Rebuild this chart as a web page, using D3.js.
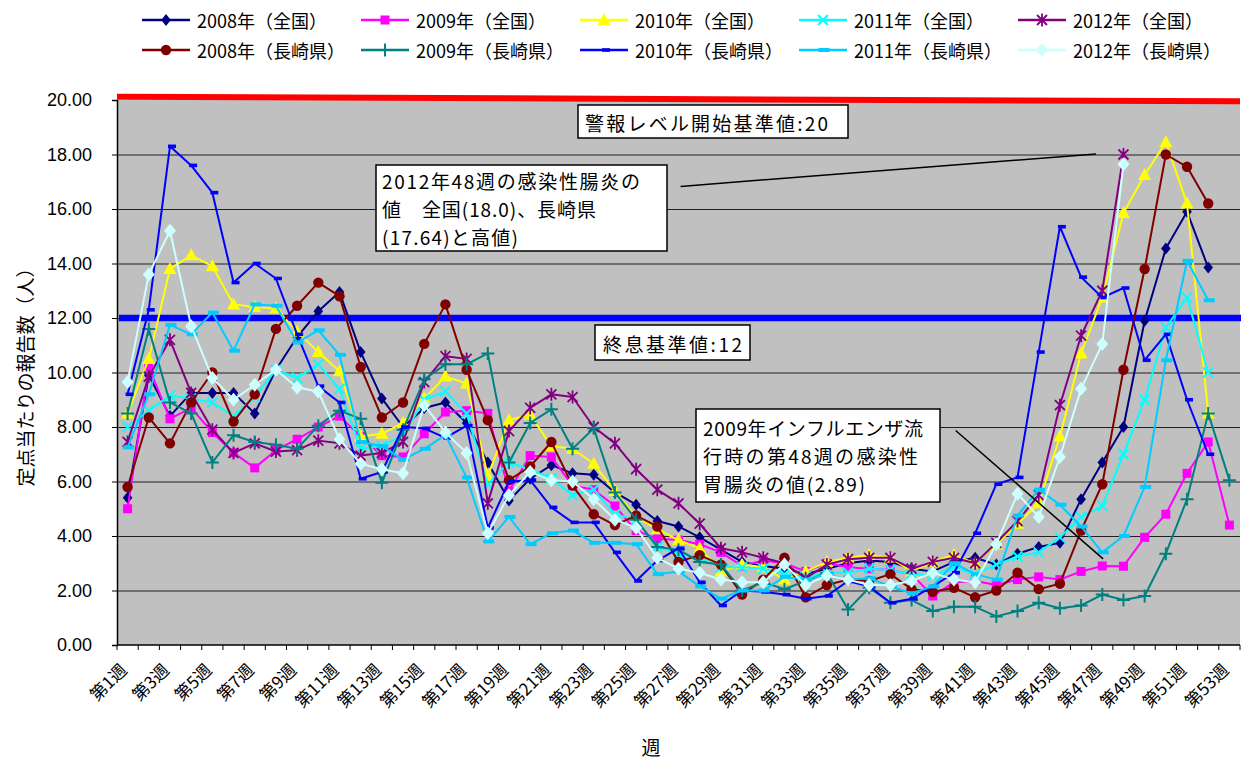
<!DOCTYPE html>
<html><head><meta charset="utf-8">
<script src="https://cdn.jsdelivr.net/npm/d3@7"></script>
<style>body{margin:0;background:#fff}</style>
</head><body>
<svg id="c" width="1241" height="758"></svg>
<script>
const weeks=["第1週","第2週","第3週","第4週","第5週","第6週","第7週","第8週","第9週","第10週","第11週","第12週","第13週","第14週","第15週","第16週","第17週","第18週","第19週","第20週","第21週","第22週","第23週","第24週","第25週","第26週","第27週","第28週","第29週","第30週","第31週","第32週","第33週","第34週","第35週","第36週","第37週","第38週","第39週","第40週","第41週","第42週","第43週","第44週","第45週","第46週","第47週","第48週","第49週","第50週","第51週","第52週","第53週"];
const yTicks=[0,2,4,6,8,10,12,14,16,18,20];

const zenkoku2008=[5.4,9.9,8.4,9.25,9.25,9.25,8.5,10.1,11.3,12.25,12.95,10.75,9.05,8.0,8.7,8.9,8.15,6.7,5.3,6.1,6.6,6.3,6.25,5.6,5.15,4.55,4.35,3.95,3.5,3.05,2.9,2.8,2.6,2.8,3.0,3.1,3.05,2.8,2.7,3.05,3.2,2.95,3.35,3.6,3.75,5.35,6.7,8.0,11.9,14.55,15.9,13.85,null];
const zenkoku2009=[5.0,10.2,8.3,8.7,7.8,7.05,6.5,7.15,7.55,8.0,8.4,7.65,6.95,6.9,7.75,8.55,8.6,8.5,5.65,6.95,6.9,5.85,5.7,5.1,4.2,3.9,3.85,3.7,3.4,2.9,3.1,3.0,2.7,3.0,2.85,2.8,2.75,2.6,1.8,2.3,2.35,2.2,2.4,2.5,2.4,2.7,2.9,2.89,3.95,4.8,6.3,7.45,4.4];
const zenkoku2010=[8.5,10.5,13.8,14.3,13.9,12.5,12.4,12.35,11.5,10.75,10.05,7.65,7.75,8.15,9.05,9.85,9.6,6.2,8.25,8.45,7.3,7.2,6.65,5.65,4.7,4.25,3.85,3.55,2.7,2.95,2.85,2.4,2.7,3.05,3.2,3.3,3.2,2.7,3.05,3.3,3.0,3.7,4.45,5.2,7.65,10.7,12.75,15.85,17.25,18.45,16.2,8.5,null];
const zenkoku2011=[8.0,8.6,9.15,9.05,8.9,8.4,9.1,10.1,9.8,10.3,9.4,7.2,7.3,7.7,9.0,9.3,8.5,5.9,6.7,6.45,6.1,5.5,5.7,4.8,4.6,3.6,3.35,3.2,2.85,2.85,2.8,2.6,2.5,2.65,2.65,2.8,2.75,2.6,2.55,2.85,2.6,2.95,3.25,3.4,3.95,4.7,5.1,7.0,9.0,11.65,12.75,10.0,null];
const zenkoku2012=[7.45,9.85,11.2,9.25,7.9,7.05,7.4,7.1,7.15,7.5,7.4,6.95,7.05,7.45,9.65,10.6,10.5,5.2,7.85,8.7,9.2,9.1,8.0,7.4,6.45,5.7,5.2,4.45,3.55,3.4,3.2,3.0,2.45,2.95,3.15,3.2,3.2,2.8,3.05,3.2,3.0,3.75,4.55,5.5,8.8,11.35,13.0,18.0,null,null,null,null,null];
const nagasaki2008=[5.8,8.35,7.4,8.9,10.0,8.2,9.2,11.6,12.45,13.3,12.8,10.2,8.35,8.9,11.05,12.5,10.1,8.25,6.05,6.55,7.45,5.85,4.8,4.4,4.75,4.35,3.05,3.3,2.95,1.85,2.4,3.2,1.75,2.2,2.4,2.35,2.6,2.05,1.95,2.1,1.75,2.0,2.65,2.05,2.25,4.2,5.9,10.1,13.8,18.0,17.55,16.2,null];
const nagasaki2009=[8.5,11.6,8.9,8.5,6.7,7.7,7.45,7.35,7.2,8.05,8.6,8.3,5.95,7.9,9.75,10.3,10.3,10.7,6.7,8.15,8.65,7.2,7.95,5.6,4.6,3.6,3.5,3.05,2.95,2.0,2.3,2.05,2.35,2.65,1.3,2.1,1.55,1.65,1.25,1.4,1.4,1.05,1.25,1.55,1.35,1.45,1.85,1.65,1.8,3.35,5.35,8.5,6.05];
const nagasaki2010=[9.2,12.3,18.3,17.6,16.6,13.3,14.0,13.45,11.4,9.5,8.9,6.1,6.35,8.0,7.95,7.6,8.05,4.3,6.0,6.05,5.05,4.5,4.5,3.4,2.35,3.1,3.55,2.3,1.45,2.0,1.95,1.85,1.7,1.8,2.35,2.15,1.55,1.7,2.15,2.65,4.1,5.9,6.15,10.75,15.35,13.5,12.75,13.1,10.45,11.4,9.0,7.0,null];
const nagasaki2011=[7.25,9.2,11.75,11.4,12.2,10.8,12.5,12.45,11.1,11.55,10.65,7.45,7.3,6.8,7.2,7.7,6.15,3.8,4.7,3.7,4.1,4.2,3.75,3.75,3.7,2.6,2.7,2.15,1.7,2.0,2.0,2.5,2.4,2.6,2.4,2.45,2.15,1.9,2.15,3.0,2.6,2.4,4.75,5.7,5.15,4.35,3.4,4.0,5.8,10.45,14.1,12.65,null];
const nagasaki2012=[9.65,13.6,15.2,11.7,9.8,9.0,9.55,10.1,9.45,9.3,7.55,6.65,6.45,6.3,8.8,7.8,7.05,4.1,5.5,6.35,6.05,6.0,5.35,4.6,4.3,3.2,2.8,2.65,2.4,2.3,2.3,2.95,2.2,2.55,2.4,2.2,2.2,2.35,2.65,2.4,2.3,3.7,5.55,4.7,6.9,9.4,11.05,17.64,null,null,null,null,null];

const seriesNames=["2008年（全国）","2009年（全国）","2010年（全国）","2011年（全国）","2012年（全国）","2008年（長崎県）","2009年（長崎県）","2010年（長崎県）","2011年（長崎県）","2012年（長崎県）"];
const seriesValues=[zenkoku2008,zenkoku2009,zenkoku2010,zenkoku2011,zenkoku2012,nagasaki2008,nagasaki2009,nagasaki2010,nagasaki2011,nagasaki2012];
const seriesColors=["#000080","#FF00FF","#FFFF00","#00FFFF","#800080","#800000","#008080","#0000FF","#00CCFF","#CCFFFF"];
const seriesMarkers=["diamond","square","triangle","x","star","circle","plus","dash","wdash","bigdiamond"];

const alarmLevel=20, endLevel=12;

const svg=d3.select("#c");
const L=117,R=1240,T=100,B=645;
const x=d3.scaleBand().domain(weeks).range([L,R]);
const bw=x.bandwidth();
const xc=d=>x(d)+bw/2;
const xw=w=>L+(w-0.5)*bw; // fractional week position for annotations
const y=d3.scaleLinear().domain([0,20]).range([B,T]);

// plot background
svg.append("rect").attr("x",L).attr("y",T).attr("width",R-L).attr("height",B-T).attr("fill","#c0c0c0");

// grid
const grid=svg.append("g").attr("transform",`translate(${L},0)`)
  .call(d3.axisLeft(y).tickValues(yTicks.filter(v=>v>0&&v<20)).tickSize(-(R-L)).tickFormat(""));
grid.select(".domain").remove();
grid.selectAll("line").attr("stroke","#202020").attr("stroke-width",1);

// y axis
const ya=svg.append("g").attr("transform",`translate(${L},0)`)
  .call(d3.axisLeft(y).tickValues(yTicks).tickSize(5).tickPadding(20).tickFormat(d3.format(".2f")));
ya.select(".domain").attr("stroke","#000").attr("stroke-width",1.5);
ya.selectAll("line").attr("stroke","#000");
ya.selectAll("text").attr("font-family","'Liberation Sans',Arial,sans-serif").attr("font-size",18).attr("fill","#000");

// x axis
svg.append("line").attr("x1",L).attr("x2",R).attr("y1",B).attr("y2",B).attr("stroke","#000").attr("stroke-width",1.5);
svg.append("g").selectAll("line").data(weeks.concat(["end"])).join("line")
  .attr("x1",d=>d==="end"?R:x(d)).attr("x2",d=>d==="end"?R:x(d))
  .attr("y1",B).attr("y2",B+5).attr("stroke","#000");
svg.append("g").selectAll("text").data(weeks.filter((d,i)=>i%2===0)).join("text")
  .attr("transform",d=>`translate(${xc(d)-5},${B+21}) rotate(-45)`)
  .attr("text-anchor","end").attr("dominant-baseline","central")
  .attr("font-family","'Noto Sans CJK JP',sans-serif").attr("font-size",17)
  .text(d=>d);

// axis titles
svg.append("text").attr("transform",`translate(24,${(T+B)/2}) rotate(-90)`).attr("text-anchor","middle")
  .attr("dominant-baseline","central").attr("font-family","'Noto Sans CJK JP',sans-serif").attr("font-size",19)
  .text("定点当たりの報告数（人）");
svg.append("text").attr("x",651).attr("y",746).attr("text-anchor","middle").attr("dominant-baseline","central")
  .attr("font-family","'Noto Sans CJK JP',sans-serif").attr("font-size",19).text("週");

// reference lines
svg.append("line").attr("x1",L).attr("x2",R).attr("y1",y(alarmLevel+0.12)).attr("y2",y(alarmLevel-0.05))
  .attr("stroke","#FF0000").attr("stroke-width",6);
svg.append("line").attr("x1",L+2).attr("x2",1241).attr("y1",y(endLevel)).attr("y2",y(endLevel))
  .attr("stroke","#0000FF").attr("stroke-width",6.5);

// markers
function drawMarker(g,type,color){
  switch(type){
    case "diamond": g.append("path").attr("d","M0,-6L4.8,0L0,6L-4.8,0Z").attr("fill",color); break;
    case "bigdiamond": g.append("path").attr("d","M0,-7L6,0L0,7L-6,0Z").attr("fill",color); break;
    case "square": g.append("rect").attr("x",-4.5).attr("y",-4.5).attr("width",9).attr("height",9).attr("fill",color); break;
    case "triangle": g.append("path").attr("d","M0,-7L6.5,5L-6.5,5Z").attr("fill",color); break;
    case "circle": g.append("circle").attr("r",5.2).attr("fill",color); break;
    case "x": g.append("path").attr("d","M-5,-5L5,5M-5,5L5,-5").attr("stroke",color).attr("stroke-width",2); break;
    case "star": g.append("path").attr("d","M-5,-5L5,5M-5,5L5,-5M0,-6.5L0,6.5").attr("stroke",color).attr("stroke-width",1.8); break;
    case "plus": g.append("path").attr("d","M-6.5,0L6.5,0M0,-6.5L0,6.5").attr("stroke",color).attr("stroke-width",2); break;
    case "dash": g.append("rect").attr("x",-2).attr("y",-1.8).attr("width",8).attr("height",3.6).attr("fill",color); break;
    case "wdash": g.append("rect").attr("x",-4.5).attr("y",-2).attr("width",11).attr("height",4).attr("fill",color); break;
  }
}

// series
const line=d3.line().defined(d=>d.v!=null).x(d=>xc(d.w)).y(d=>y(d.v));
seriesValues.forEach((vals,si)=>{
  const pts=vals.map((v,i)=>({w:weeks[i],v}));
  svg.append("path").datum(pts).attr("d",line).attr("fill","none")
    .attr("stroke",seriesColors[si]).attr("stroke-width",2).attr("stroke-linejoin","round");
  const mg=svg.append("g");
  pts.filter(p=>p.v!=null).forEach(p=>{
    const g=mg.append("g").attr("transform",`translate(${xc(p.w)},${y(p.v)})`);
    drawMarker(g,seriesMarkers[si],seriesColors[si]);
  });
});

// legend
const legCols=[142,361,580,799,1018], legRows=[20,50];
seriesNames.forEach((n,i)=>{
  const lx=legCols[i%5], ly=legRows[Math.floor(i/5)];
  const g=svg.append("g");
  g.append("line").attr("x1",lx).attr("x2",lx+48).attr("y1",ly).attr("y2",ly).attr("stroke",seriesColors[i]).attr("stroke-width",2.5);
  drawMarker(g.append("g").attr("transform",`translate(${lx+24},${ly})`),seriesMarkers[i],seriesColors[i]);
  g.append("text").attr("x",lx+55).attr("y",ly).attr("dominant-baseline","central")
    .attr("font-family","'Noto Sans CJK JP',sans-serif").attr("font-size",18).text(n);
});

// annotations
const annFont="'Noto Sans CJK JP',sans-serif";
function box(bx,by,w,h,lines,tx,ty0,lh,lens){
  svg.append("rect").attr("x",bx).attr("y",by).attr("width",w).attr("height",h).attr("fill","#fff").attr("stroke","#000").attr("stroke-width",1.5);
  lines.forEach((t,i)=>{
    const el=svg.append("text").attr("x",tx).attr("y",ty0+i*lh).attr("dominant-baseline","central")
      .attr("font-family",annFont).attr("font-size",19).text(t);
    if(lens&&lens[i]) el.attr("textLength",lens[i]).attr("lengthAdjust","spacing");
  });
}
// connector lines
svg.append("line").attr("x1",xw(27.1)).attr("y1",y(16.83)).attr("x2",xw(46.7)).attr("y2",y(18.02)).attr("stroke","#000").attr("stroke-width",1.5);
svg.append("line").attr("x1",xw(40.08)).attr("y1",y(7.87)).attr("x2",xw(47.04)).attr("y2",y(3.16)).attr("stroke","#000").attr("stroke-width",1.5);

box(578,105,270,33,["警報レベル開始基準値:20"],585,122,0,[243]);
box(376,165,291,86,["2012年48週の感染性腸炎の","値　全国(18.0)、長崎県","(17.64)と高値)"],382,180,28,[258,214,136]);
box(595,325,155,35,["終息基準値:12"],603,343,0,[139]);
box(696,409,244,93,["2009年インフルエンザ流","行時の第48週の感染性","胃腸炎の値(2.89)"],703,427,28,[220,215,162]);
</script>
</body></html>
